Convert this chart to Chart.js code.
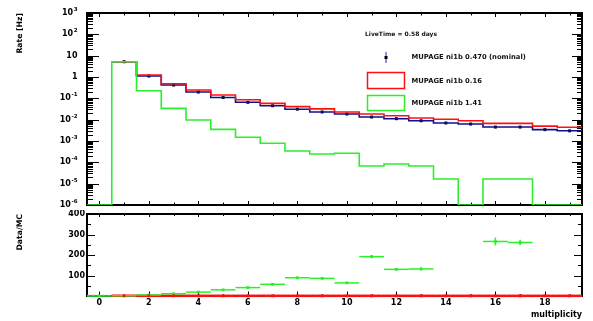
<!DOCTYPE html>
<html>
<head>
<meta charset="utf-8">
<script src="https://cdn.jsdelivr.net/npm/chart.js@4"></script>
<style>
  body { margin: 0; background: #fff; }
  #wrap { position: relative; width: 593px; height: 321px; }
  canvas { position: absolute; left: 0; }
  #rate_chart { top: 0; }
  #ratio_chart { top: 210px; }
</style>
</head>
<body>
<div id="wrap">
  <canvas id="rate_chart" width="593" height="210"></canvas>
  <canvas id="ratio_chart" width="593" height="111"></canvas>
</div>
<script>
// multiplicity bins, width 1, centred on the integers
const multiplicity = [0, 1, 2, 3, 4, 5, 6, 7, 8, 9, 10, 11, 12, 13, 14, 15, 16, 17, 18, 19];

// rates [Hz] per bin
const rateNominal = [0, 5.2, 1.11, 0.42, 0.198, 0.109, 0.065, 0.045, 0.031, 0.023, 0.0184,
  0.0133, 0.0111, 0.0089, 0.0070, 0.00625, 0.0045, 0.0045, 0.0034, 0.0030];
const rate016 = [0, 5.2, 1.24, 0.485, 0.245, 0.143, 0.086, 0.058, 0.041, 0.032, 0.023,
  0.0184, 0.0153, 0.012, 0.0104, 0.0089, 0.0067, 0.0067, 0.0050, 0.0044];
const rate141 = [0, 5.2, 0.228, 0.034, 0.0096, 0.0035, 0.0015, 0.00078, 0.00034, 0.000245,
  0.000265, 0.0000673, 0.0000836, 0.0000673, 0.0000165, 0, 0.0000165, 0.0000165, 0, 0];

// nominal / variation
const ratio016 = [null, 1.0, 0.9, 0.87, 0.81, 0.76, 0.76, 0.78, 0.76, 0.72, 0.8,
  0.72, 0.73, 0.74, 0.67, 0.7, 0.67, 0.67, 0.68, 0.68];
const ratio141 = [0, 1, 5, 11, 19, 30, 41, 57, 89, 86, 64, 192, 130, 132, null, null, 266, 261, null, null];
const ratio141Err = [0, 0, 0, 1, 1, 1, 2, 3, 4, 4, 4, 8, 6, 7, 0, 0, 19, 14, 0, 0];

const rateTickValues = [1e3, 1e2, 1e1, 1, 1e-1, 1e-2, 1e-3, 1e-4, 1e-5, 1e-6];
const multTickValues = [0, 2, 4, 6, 8, 10, 12, 14, 16, 18];
const ratioTickValues = [100, 200, 300, 400];

const liveTimeLabel = 'LiveTime = 0.58 days';
const legendLabels = ['MUPAGE ni1b 0.470 (nominal)', 'MUPAGE ni1b 0.16', 'MUPAGE ni1b 1.41'];

const RATE_MIN = 1e-6, RATE_MAX = 1e3;
const BLUE = '#10108c', RED = '#ff1010', GREEN = '#2af02a';
const FONT = "'DejaVu Sans', sans-serif";

Chart.defaults.font.family = FONT;
Chart.defaults.font.size = 8;
Chart.defaults.font.weight = 'bold';
Chart.defaults.color = '#000';

// histogram outline: one point per lower bin edge plus the last upper edge
function histSteps(vals, floorVal) {
  const pts = vals.map((v, i) => ({ x: multiplicity[i] - 0.5, y: v > 0 ? v : floorVal }));
  const last = vals.length - 1;
  pts.push({ x: multiplicity[last] + 0.5, y: pts[last].y });
  return pts;
}

function binPoints(vals) {
  return vals.map((v, i) => ({ x: multiplicity[i], y: v }));
}

function seg(ctx, x1, y1, x2, y2) {
  ctx.beginPath();
  ctx.moveTo(x1, y1);
  ctx.lineTo(x2, y2);
  ctx.stroke();
}

// ROOT style frame with inward ticks on all four sides
function frameTicks(cfg) {
  return {
    id: 'frameTicks',
    beforeDatasetsDraw(chart) {
      const { ctx, chartArea: a, scales: { x, y } } = chart;
      ctx.save();
      ctx.strokeStyle = '#000';
      ctx.lineWidth = 1;
      for (let m = Math.ceil(x.min); m <= x.max; m++) {
        const px = Math.round(x.getPixelForValue(m)) + 0.5;
        const major = m % 2 === 0;
        seg(ctx, px, a.top, px, a.top + (major ? cfg.topMajor : cfg.topMinor));
        seg(ctx, px, a.bottom, px, a.bottom - (major ? cfg.botMajor : cfg.botMinor));
      }
      cfg.yMarks(y).forEach(([v, major]) => {
        const py = Math.round(y.getPixelForValue(v)) + 0.5;
        seg(ctx, a.left, py, a.left + (major ? cfg.leftMajor : cfg.leftMinor), py);
        seg(ctx, a.right, py, a.right - (major ? cfg.rightMajor : cfg.rightMinor), py);
      });
      ctx.lineWidth = 2;
      ctx.strokeRect(a.left, a.top, a.right - a.left, a.bottom - a.top);
      ctx.restore();
    }
  };
}

function logMarks(y) {
  const marks = [];
  for (let e = Math.round(Math.log10(y.min)); e < Math.round(Math.log10(y.max)); e++) {
    for (let k = 1; k <= 9; k++) marks.push([k * Math.pow(10, e), k === 1]);
  }
  marks.push([y.max, true]);
  return marks;
}

function linMarks(y) {
  const marks = [];
  for (let v = 50; v <= y.max; v += 50) marks.push([v, v % 100 === 0]);
  return marks;
}

// decade labels 10^n with a raised exponent
const logLabels = {
  id: 'logLabels',
  afterDraw(chart) {
    const { ctx, chartArea: a, scales: { y } } = chart;
    const baseFont = 'bold 8px ' + FONT, supFont = 'bold 5.5px ' + FONT;
    const rightEdge = a.left - 9.5;
    ctx.save();
    ctx.fillStyle = '#000';
    ctx.textBaseline = 'middle';
    ctx.textAlign = 'left';
    y.ticks.forEach((t) => {
      const e = Math.round(Math.log10(t.value));
      const base = e === 0 ? '1' : '10';
      const sup = e === 0 || e === 1 ? '' : String(e);
      ctx.font = baseFont;
      const wb = ctx.measureText(base).width;
      ctx.font = supFont;
      const ws = sup ? ctx.measureText(sup).width + 0.5 : 0;
      const x0 = rightEdge - wb - ws;
      const py = y.getPixelForValue(t.value);
      ctx.font = baseFont;
      ctx.fillText(base, x0, py);
      if (sup) {
        ctx.font = supFont;
        ctx.fillText(sup, x0 + wb + 0.5, py - 3.5);
      }
    });
    ctx.restore();
  }
};

const legendBox = {
  id: 'legendBox',
  afterDraw(chart) {
    const ctx = chart.ctx;
    ctx.save();
    ctx.fillStyle = '#111';
    ctx.textBaseline = 'middle';
    ctx.textAlign = 'left';
    ctx.font = 'bold 6px ' + FONT;
    ctx.fillText(liveTimeLabel, 365, 34.5);

    ctx.font = 'bold 6.8px ' + FONT;
    ctx.strokeStyle = '#6a6ad8';
    ctx.lineWidth = 1.5;
    seg(ctx, 386, 52, 386, 63);
    ctx.fillStyle = '#000';
    ctx.fillRect(384.5, 56, 3, 3);
    ctx.fillStyle = '#111';
    ctx.fillText(legendLabels[0], 411.5, 57.5);

    ctx.strokeStyle = RED;
    ctx.strokeRect(367.5, 72.5, 37, 16);
    ctx.fillText(legendLabels[1], 411.5, 81.5);

    ctx.strokeStyle = GREEN;
    ctx.strokeRect(367.5, 95.5, 37, 15);
    ctx.fillText(legendLabels[2], 411.5, 103.5);
    ctx.restore();
  }
};

// bin-width bars, vertical errors and the unity line of the ratio panel
const ratioBars = {
  id: 'ratioBars',
  beforeDatasetsDraw(chart) {
    const { ctx, chartArea: a, scales: { x, y } } = chart;
    ctx.save();
    ctx.strokeStyle = '#9a9a9a';
    ctx.lineWidth = 1;
    ctx.setLineDash([3, 2]);
    const y1 = y.getPixelForValue(1) - 0.5;
    seg(ctx, a.left, y1, a.right, y1);
    ctx.setLineDash([]);
    chart.data.datasets.forEach((ds) => {
      ctx.strokeStyle = ds.borderColor;
      ctx.lineWidth = ds.barWidth;
      ds.data.forEach((p, i) => {
        if (p.y === null) return;
        const px = x.getPixelForValue(p.x);
        const py = y.getPixelForValue(p.y);
        seg(ctx, x.getPixelForValue(p.x - 0.5), py, x.getPixelForValue(p.x + 0.5), py);
        const e = ds.errors ? ds.errors[i] : 0;
        if (e) seg(ctx, px, y.getPixelForValue(p.y - e), px, y.getPixelForValue(p.y + e));
      });
    });
    ctx.restore();
  }
};

// 'before' = horizontal across the bin first, then the vertical edge
const histLine = (data, color) => ({
  data, borderColor: color, borderWidth: 1.6, stepped: 'before', pointRadius: 0, fill: false
});

const rate_chart = new Chart(document.getElementById('rate_chart'), {
  type: 'line',
  data: {
    datasets: [
      histLine(histSteps(rate141, RATE_MIN), GREEN),
      histLine(histSteps(rate016, null), RED),
      histLine(histSteps(rateNominal, null), BLUE),
      {
        data: binPoints(rateNominal.map((v) => (v > 0 ? v : null))),
        showLine: false, pointStyle: 'rect', pointRadius: 2.1,
        pointBackgroundColor: '#000', pointBorderWidth: 0, borderColor: '#000'
      }
    ]
  },
  options: {
    responsive: false,
    animation: false,
    layout: { padding: { top: 13, right: 11, bottom: 5, left: 0 } },
    plugins: { legend: { display: false }, tooltip: { enabled: false } },
    scales: {
      x: { type: 'linear', min: -0.5, max: 19.5, display: false },
      y: {
        type: 'logarithmic', min: RATE_MIN, max: RATE_MAX,
        afterBuildTicks: (s) => { s.ticks = rateTickValues.map((v) => ({ value: v })); },
        afterFit: (s) => { s.width = 87; s.paddingTop = 0; s.paddingBottom = 0; },
        ticks: { display: false },
        grid: { display: false, drawTicks: false },
        border: { display: false },
        title: { display: true, text: 'Rate [Hz]', align: 'end', font: { size: 7.7 }, padding: { top: 15.4, bottom: 0 } }
      }
    }
  },
  plugins: [
    frameTicks({ yMarks: logMarks, topMajor: 4, topMinor: 2.5, botMajor: 4, botMinor: 2.5,
      leftMajor: 12, leftMinor: 6, rightMajor: 10, rightMinor: 5 }),
    logLabels, legendBox
  ]
});

const ratio_chart = new Chart(document.getElementById('ratio_chart'), {
  type: 'line',
  data: {
    datasets: [
      {
        data: binPoints(ratio016), errors: null, barWidth: 2.5,
        showLine: false, pointStyle: 'rect', pointRadius: 2,
        pointBackgroundColor: RED, pointBorderWidth: 0, borderColor: RED, clip: 6
      },
      {
        data: binPoints(ratio141), errors: ratio141Err, barWidth: 1.5,
        showLine: false, pointStyle: 'rect', pointRadius: 2,
        pointBackgroundColor: GREEN, pointBorderWidth: 0, borderColor: GREEN, clip: 6
      }
    ]
  },
  options: {
    responsive: false,
    animation: false,
    layout: { padding: { top: 2, right: 11, bottom: 0, left: 0 } },
    plugins: { legend: { display: false }, tooltip: { enabled: false } },
    scales: {
      x: {
        type: 'linear', min: -0.5, max: 19.5,
        afterBuildTicks: (s) => { s.ticks = multTickValues.map((v) => ({ value: v })); },
        afterFit: (s) => { s.height = 25; s.paddingLeft = 0; s.paddingRight = 0; },
        ticks: { padding: 2, maxRotation: 0, autoSkip: false },
        grid: { display: false, drawTicks: false },
        border: { display: false },
        title: { display: true, text: 'multiplicity', align: 'end', padding: { top: 0, bottom: 1 } }
      },
      y: {
        type: 'linear', min: 0, max: 400,
        afterBuildTicks: (s) => { s.ticks = ratioTickValues.map((v) => ({ value: v })); },
        afterFit: (s) => { s.width = 87; s.paddingTop = 0; s.paddingBottom = 0; },
        ticks: { padding: 2 },
        grid: { display: false, drawTicks: false },
        border: { display: false },
        title: { display: true, text: 'Data/MC', align: 'end', font: { size: 7.7 }, padding: { top: 15.4, bottom: 0 } }
      }
    }
  },
  plugins: [
    frameTicks({ yMarks: linMarks, topMajor: 3, topMinor: 2, botMajor: 4.5, botMinor: 2,
      leftMajor: 8, leftMinor: 4, rightMajor: 8, rightMinor: 4 }),
    ratioBars
  ]
});
</script>
</body>
</html>
